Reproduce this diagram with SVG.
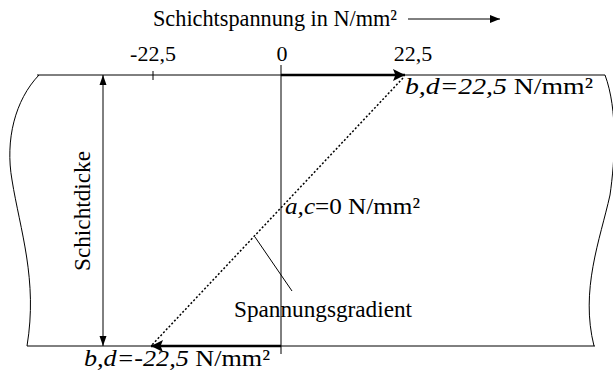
<svg xmlns="http://www.w3.org/2000/svg" width="613" height="371" viewBox="0 0 613 371">
<defs>
<style>
.ln{stroke:#000;stroke-width:1;fill:none}
.thick{stroke:#000;stroke-width:2.5;fill:none}
.tx{font-family:'Liberation Serif','Times New Roman','DejaVu Serif',serif;font-size:23px;fill:#000}
</style>
<marker id="ah" viewBox="0 0 10 10" refX="10" refY="5" markerWidth="10" markerHeight="10" markerUnits="userSpaceOnUse" orient="auto-start-reverse"><path d="M0,1.5 L10,5 L0,8.5 Z" fill="#000"/></marker>
<marker id="ahb" viewBox="0 0 10 10" refX="10" refY="5" markerWidth="16" markerHeight="12" markerUnits="userSpaceOnUse" orient="auto"><path d="M0,0 L10,5 L0,10 L2,5 Z" fill="#000"/></marker>
<marker id="aht" viewBox="0 0 10 10" refX="10" refY="5" markerWidth="16" markerHeight="10" markerUnits="userSpaceOnUse" orient="auto"><path d="M0,1 L10,5 L0,9 Z" fill="#000"/></marker>
</defs>
<g id="layer">
<path class="ln" d="M37,75 L605,75"/>
<path class="ln" d="M27,346 L595,346"/>
<path class="ln" d="M39,75 C15,100 5,140 12,180 C20,230 38,280 27,346"/>
<path class="ln" d="M605,75 C618,110 615,160 610,195 C600,240 580,290 594,346"/>
<path class="ln" d="M153,71 L153,80"/>
</g>
<g class="tx">
<g id="axis">
<text x="153" y="26" textLength="244" lengthAdjust="spacingAndGlyphs">Schichtspannung in N/mm²</text>
<path class="ln" d="M408,19 L500,19" marker-end="url(#aht)"/>
<text x="153" y="61" text-anchor="middle" font-size="22">-22,5</text>
<text x="282" y="61" text-anchor="middle" font-size="22">0</text>
<text x="413" y="61" text-anchor="middle" font-size="22">22,5</text>
<path class="ln" d="M281,65 L281,354"/>
</g>
<g id="connectors">
<path class="thick" d="M281,75 L405,75" marker-end="url(#ahb)"/>
<path class="thick" d="M281,346 L151,346" marker-end="url(#ahb)"/>
<path d="M403,78 L151,346" stroke="#000" stroke-width="1.5" stroke-dasharray="2,2" fill="none"/>
<path class="ln" d="M103,75 L103,346" marker-start="url(#ah)" marker-end="url(#ah)"/>
<path class="ln" d="M255,237 L292,291"/>
</g>
<g id="labels">
<text transform="translate(90,211) rotate(-90)" text-anchor="middle" textLength="120" lengthAdjust="spacingAndGlyphs">Schichtdicke</text>
<text x="405" y="94" textLength="188" lengthAdjust="spacingAndGlyphs"><tspan font-style="italic">b,d=22,5</tspan> N/mm²</text>
<text x="285" y="214" textLength="135" lengthAdjust="spacingAndGlyphs"><tspan font-style="italic">a,c</tspan>=0 N/mm²</text>
<text x="234" y="317" textLength="178" lengthAdjust="spacingAndGlyphs">Spannungsgradient</text>
<text x="84" y="366" textLength="186" lengthAdjust="spacingAndGlyphs"><tspan font-style="italic">b,d=-22,5</tspan> N/mm²</text>
</g>
</g>
</svg>
